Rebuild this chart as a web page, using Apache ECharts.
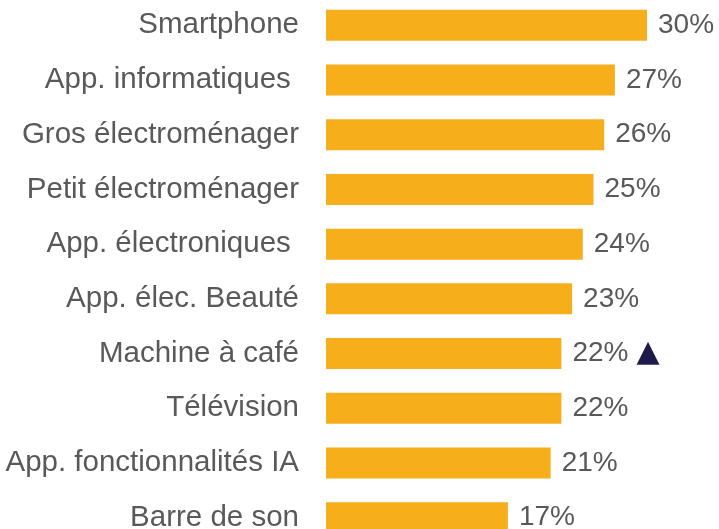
<!DOCTYPE html>
<html>
<head>
<meta charset="utf-8">
<script src="https://cdn.jsdelivr.net/npm/echarts@6/dist/echarts.min.js"></script>
<style>
  html, body { margin: 0; padding: 0; background: #ffffff; }
  #chart { width: 719px; height: 529px; }
</style>
</head>
<body>
<div id="chart"></div>
<script>
// Product categories, top to bottom
const categories = [
  'Smartphone',
  'App. informatiques ',
  'Gros électroménager',
  'Petit électroménager',
  'App. électroniques ',
  'App. élec. Beauté',
  'Machine à café',
  'Télévision',
  'App. fonctionnalités IA',
  'Barre de son'
];
// Share in percent
const values = [30, 27, 26, 25, 24, 23, 22, 22, 21, 17];
// Rows flagged with an upward-trend marker
const trendUp = [false, false, false, false, false, false, true, false, false, false];

const TEXT = '#595959';
const FONT = 'Liberation Sans, Arial, sans-serif';

const chart = echarts.init(document.getElementById('chart'), null, { renderer: 'canvas' });
chart.setOption({
  backgroundColor: '#ffffff',
  animation: false,
  grid: { left: 326, width: 321, top: -2, height: 547, outerBoundsMode: 'none', containLabel: false },
  xAxis: { type: 'value', min: 0, max: 30, show: false },
  yAxis: {
    type: 'category',
    data: categories,
    inverse: true,
    axisLine: { show: false },
    axisTick: { show: false },
    splitLine: { show: false },
    axisLabel: { color: TEXT, fontSize: 29.5, fontFamily: FONT, margin: 27 }
  },
  series: [{
    type: 'bar',
    data: values,
    barWidth: 31,
    itemStyle: { color: '#F6AE1B' },
    label: {
      show: true,
      position: 'right',
      distance: 11,
      fontFamily: FONT,
      formatter: p => trendUp[p.dataIndex] ? '{v|' + p.value + '%}{t|▲}' : '{v|' + p.value + '%}',
      rich: {
        v: { color: TEXT, fontSize: 28, fontFamily: FONT },
        t: { color: '#1E1A4A', fontSize: 30, fontFamily: 'DejaVu Sans, sans-serif', padding: [0, 0, 0, 8] }
      }
    }
  }]
});
</script>
</body>
</html>
